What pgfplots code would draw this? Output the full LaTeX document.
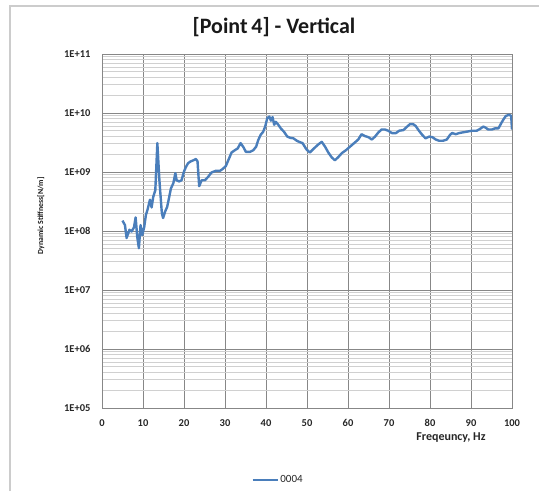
\documentclass[border=0pt]{standalone}
\usepackage{fontspec}
\setmainfont{Carlito}
\usepackage{pgfplots}
\pgfplotsset{compat=1.18}
\definecolor{xlblue}{HTML}{4A7EBB}
\definecolor{gridmaj}{HTML}{878787}
\definecolor{gridmin}{HTML}{D0D0D0}
\begin{document}
\begin{tikzpicture}
\path[use as bounding box] (0pt,0pt) rectangle (539pt,491pt);
\draw[gray!40, line width=1.2pt] (10pt,0pt) -- (10pt,485pt) -- (539pt,485pt);
\node[font=\fontsize{22}{24}\selectfont\bfseries, text=black!90] at (274pt,464pt) {[Point\,4] - Vertical};
\node[rotate=90, font=\fontsize{7.8}{8}\selectfont\bfseries, text=black!90] at (41pt,275pt) {Dynamic Stiffness[N/m]};
\node[font=\fontsize{12}{13}\selectfont\bfseries, text=black!85] at (451pt,53pt) {Freqeuncy, Hz};
\begin{axis}[
 at={(102pt,83pt)}, anchor=south west,
 scale only axis, width=410pt, height=354pt,
 ymode=log, xmin=0, xmax=100, ymin=1e5, ymax=1e11,
 xtick={0,10,...,100}, xticklabels={0,10,20,30,40,50,60,70,80,90,100},
 ytick={1e5,1e6,1e7,1e8,1e9,1e10,1e11},
 yticklabels={1E+05,1E+06,1E+07,1E+08,1E+09,1E+10,1E+11},
 major tick length=0pt, minor tick length=0pt,
 xmajorgrids, ymajorgrids, yminorgrids,
 major grid style={gridmaj, line width=0.8pt},
 minor grid style={gridmin, line width=0.8pt},
 axis line style={gridmaj, line width=0.8pt},
 tick label style={font=\fontsize{10.5}{11}\selectfont\bfseries, text=black!85},
 yticklabel style={xshift=-8pt},
 xticklabel style={yshift=-8pt},
 legend style={at={(0.43,-0.203)}, anchor=center, draw=none, fill=none,
   font=\fontsize{11}{12}\selectfont, text=black!85},
 legend image code/.code={\draw[#1, line width=1.5pt] (0pt,0pt) -- (25pt,0pt);},
]
\addplot[xlblue, line width=2.4pt, line join=round] coordinates {
(5.0,1.50e8) (5.6,1.26e8) (6.0,7.6e7) (6.7,1.05e8) (7.2,9.8e7) (7.8,1.15e8)
(8.2,1.70e8) (8.6,7.9e7) (9.0,5.1e7) (9.4,1.26e8) (9.8,8.5e7) (10.3,1.17e8)
(10.7,1.86e8) (11.1,2.29e8) (11.7,3.39e8) (12.1,2.51e8) (12.5,3.80e8) (13.0,4.90e8)
(13.5,3.09e9) (14.0,7.24e8) (14.6,2.0e8) (14.9,1.66e8) (15.4,2.14e8) (15.9,2.57e8)
(16.4,3.80e8) (16.8,5.25e8) (17.4,6.46e8) (17.9,9.55e8) (18.2,7.24e8) (18.8,6.92e8)
(19.4,7.24e8) (20.0,1.02e9) (20.5,1.23e9) (21.0,1.41e9) (21.6,1.51e9) (22.3,1.58e9)
(22.9,1.66e9) (23.3,1.51e9) (23.7,5.75e8) (24.3,7.24e8) (25.1,7.24e8) (25.9,8.3e8)
(26.7,9.8e8) (27.8,1.05e9) (28.8,1.05e9) (29.4,1.12e9) (30.2,1.26e9) (30.8,1.58e9)
(31.6,2.14e9) (32.4,2.34e9) (33.1,2.51e9) (33.8,3.09e9) (34.5,2.63e9) (35.1,2.19e9)
(36.1,2.19e9) (36.9,2.34e9) (37.6,2.69e9) (38.1,3.47e9) (38.7,4.27e9) (39.3,4.79e9)
(39.8,5.89e9) (40.3,8.13e9) (40.8,8.71e9) (41.2,7.41e9) (41.6,8.51e9) (42.0,6.31e9)
(42.4,7.08e9) (43.0,6.31e9) (43.6,5.50e9) (44.4,4.79e9) (45.2,3.98e9) (45.9,3.80e9)
(46.7,3.72e9) (47.5,3.39e9) (48.1,3.24e9) (48.9,3.09e9) (49.9,2.40e9) (50.7,2.14e9)
(51.7,2.51e9) (52.8,2.95e9) (53.6,3.24e9) (54.4,2.69e9) (55.2,2.14e9) (56.0,1.78e9)
(56.8,1.58e9) (57.6,1.78e9) (58.5,2.09e9) (59.5,2.34e9) (60.5,2.69e9) (61.5,3.09e9)
(62.5,3.55e9) (63.3,4.37e9) (64.1,4.07e9) (65.0,3.89e9) (65.8,3.55e9) (66.6,3.98e9)
(67.4,4.68e9) (68.2,5.25e9) (69.0,5.25e9) (69.8,5.01e9) (70.7,4.57e9) (71.7,4.57e9)
(72.5,5.01e9) (73.5,5.13e9) (74.6,6.03e9) (75.1,6.46e9) (75.9,6.46e9) (76.5,6.03e9)
(77.3,5.01e9) (78.1,4.27e9) (78.9,3.72e9) (79.8,3.98e9) (80.6,3.89e9) (81.4,3.55e9)
(82.2,3.39e9) (83.2,3.39e9) (84.1,3.55e9) (84.9,4.27e9) (85.4,4.57e9) (86.3,4.37e9)
(87.1,4.57e9) (87.9,4.68e9) (88.7,4.79e9) (89.5,4.90e9) (90.3,5.01e9) (91.4,5.01e9)
(92.2,5.37e9) (93.0,5.89e9) (93.6,5.62e9) (94.2,5.25e9) (95.1,5.25e9) (95.9,5.50e9)
(96.7,5.50e9) (97.4,6.76e9) (97.9,7.76e9) (98.5,8.91e9) (99.3,9.33e9) (99.8,8.91e9)
(100,5.25e9)
};
\addlegendentry{0004}
\end{axis}
\end{tikzpicture}
\end{document}
